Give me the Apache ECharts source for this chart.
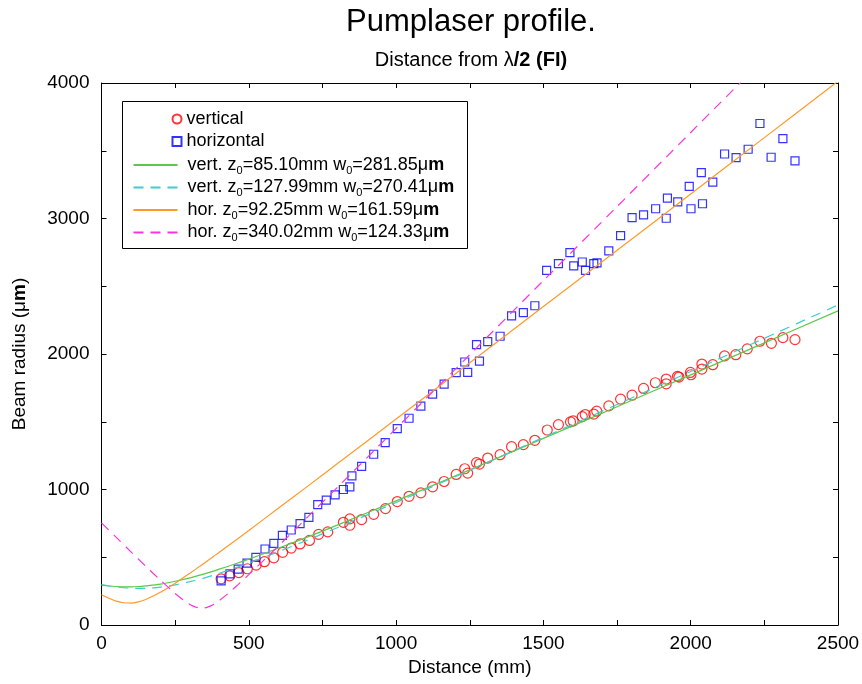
<!DOCTYPE html>
<html>
<head>
<meta charset="utf-8">
<title>Pumplaser profile</title>
<script src="https://cdn.jsdelivr.net/npm/echarts/dist/echarts.min.js"></script>
<style>
    html, body {margin: 0; padding: 0; background: #fff;}
    #main {width: 862px; height: 684px;}
</style>
</head>
<body>
<div id="main"></div>
<script>
    // measured points, vertical profile (circles)
    var vertX = [406, 435, 466, 495, 525, 553, 585, 615, 644, 674, 706, 737, 768, 821, 843, 843, 883, 924, 964,
        1004, 1044, 1084, 1124, 1163, 1204, 1233, 1243, 1273, 1283, 1311, 1353, 1392, 1432, 1471, 1513, 1551,
        1592, 1601, 1632, 1642, 1671, 1681, 1722, 1762, 1801, 1840, 1880, 1917, 1917, 1955, 1960, 1999, 2001,
        2038, 2038, 2075, 2115, 2153, 2192, 2235, 2274, 2313, 2354];
    var vertY = [341, 363, 387, 415, 442, 467, 496, 536, 568, 598, 624, 669, 687, 758, 783, 736, 778, 817, 859,
        911, 950, 975, 1020, 1059, 1111, 1153, 1121, 1198, 1188, 1232, 1257, 1316, 1331, 1363, 1439, 1479,
        1499, 1506, 1538, 1553, 1556, 1578, 1617, 1667, 1696, 1746, 1788, 1815, 1780, 1835, 1830, 1864, 1847,
        1926, 1889, 1921, 1986, 1995, 2038, 2094, 2079, 2121, 2106];

    // measured points, horizontal profile (squares)
    var horX = [406, 436, 464, 494, 524, 555, 585, 614, 644, 674, 704, 734, 763, 793, 821, 843, 850, 883, 924, 963,
        1004, 1044, 1084, 1124, 1163, 1204, 1233, 1243, 1273, 1283, 1311, 1353, 1392, 1432, 1471, 1511, 1551,
        1590, 1603, 1632, 1643, 1671, 1682, 1722, 1762, 1801, 1840, 1881, 1917, 1921, 1956, 1995, 2001, 2036,
        2040, 2075, 2115, 2154, 2195, 2235, 2273, 2313, 2354];
    var horY = [326, 378, 412, 457, 499, 561, 602, 662, 701, 748, 795, 889, 921, 960, 1000, 1020, 1100, 1170, 1260, 1346,
        1449, 1526, 1615, 1704, 1778, 1862, 1941, 1864, 2069, 1948, 2091, 2131, 2281, 2306, 2356, 2617, 2667,
        2748, 2650, 2679, 2617, 2667, 2672, 2761, 2874, 3007, 3027, 3072, 3002, 3150, 3123, 3237, 3072, 3339,
        3109, 3269, 3476, 3449, 3511, 3701, 3452, 3590, 3425];

    // fitted curves
    var fitX = [0, 25, 50, 75, 100, 125, 150, 200, 250, 300, 340, 380, 400, 450, 500, 600, 700, 800,
        1000, 1250, 1500, 1750, 2000, 2250, 2500];
    var vertFit1 = [293, 288, 284, 282, 282, 284, 289, 302, 323, 348, 372, 398, 412, 448, 486, 566, 650, 737,
        916, 1145, 1377, 1611, 1846, 2082, 2318];
    var vertFit2 = [299, 289, 281, 275, 272, 270, 271, 280, 296, 320, 342, 368, 382, 418, 457, 540, 627, 718,
        904, 1142, 1384, 1627, 1871, 2116, 2362];
    var horFit1 = [223, 197, 176, 164, 162, 171, 188, 241, 308, 382, 443, 506, 537, 617, 698, 861, 1025, 1190,
        1520, 1935, 2350, 2765, 3181, 3597, 4013];
    var pinkX = [0, 50, 100, 150, 200, 250, 280, 300, 320, 340, 360, 380, 400, 430, 460, 500, 600, 700, 800,
        1000, 1250, 1500, 1750, 2000, 2170];
    var horFit2 = [754, 647, 540, 434, 331, 233, 181, 152, 132, 124, 132, 152, 181, 233, 291, 372, 582, 798, 1014,
        1450, 1995, 2542, 3088, 3635, 4005];

    // labelled ticks only every second tick
    var xTickLabels = [0, 500, 1000, 1500, 2000, 2500];
    var yTickLabels = [0, 1000, 2000, 3000, 4000];

    var legendText = {
        'vertical': 'vertical',
        'horizontal': 'horizontal',
        'vfit1': ' vert. z{s|0}=85.10mm w{s|0}=281.85μ{b|m}',
        'vfit2': ' vert. z{s|0}=127.99mm w{s|0}=270.41μ{b|m}',
        'hfit1': ' hor. z{s|0}=92.25mm w{s|0}=161.59μ{b|m}',
        'hfit2': ' hor. z{s|0}=340.02mm w{s|0}=124.33μ{b|m}'
    };

    var FONT = '"Liberation Sans", Arial, sans-serif';

    function pairs(xs, ys) {
        var out = [];
        for (var i = 0; i < xs.length; i++) {
            out.push([xs[i], ys[i]]);
        }
        return out;
    }

    function tickFormatter(list) {
        return function (v) {
            return list.indexOf(v) >= 0 ? String(v) : '';
        };
    }

    var richText = {
        s: {fontSize: 11, fontFamily: FONT, color: '#000', verticalAlign: 'bottom', lineHeight: 22},
        b: {fontSize: 18, fontFamily: FONT, color: '#000', fontWeight: 'bold', lineHeight: 22}
    };

    var legendText18 = {fontSize: 18, fontFamily: FONT, color: '#000', lineHeight: 22, rich: richText};

    // frame axes: ticks point into the plot, lines stay on the frame
    function tickStyle() {
        return {inside: true, length: 5, lineStyle: {color: '#000', width: 1}};
    }
    function lineAxis() {
        return {onZero: false, lineStyle: {color: '#000', width: 1}};
    }

    var chart = echarts.init(document.getElementById('main'), null, {renderer: 'canvas'});

    chart.setOption({
        animation: false,
        backgroundColor: '#fff',
        title: [
            {
                text: 'Pumplaser profile.',
                left: 471, top: 7, textAlign: 'center', padding: 0,
                textStyle: {fontSize: 31, fontWeight: 'normal', fontFamily: FONT, color: '#000'}
            },
            {
                text: 'Distance from λ{b|/2 (FI)}',
                left: 471, top: 50, textAlign: 'center', padding: 0,
                textStyle: {
                    fontSize: 20, fontWeight: 'normal', fontFamily: FONT, color: '#000',
                    rich: {b: {fontSize: 20, fontWeight: 'bold', fontFamily: FONT, color: '#000'}}
                }
            }
        ],
        // legend frame
        graphic: [{
            type: 'rect',
            shape: {x: 122.5, y: 101.5, width: 345, height: 147},
            style: {fill: 'none', stroke: '#000', lineWidth: 1},
            z: 10
        }],
        legend: [
            {
                orient: 'vertical', left: 171.5, top: 108, padding: 0, itemGap: 0.5,
                itemWidth: 9, itemHeight: 9, selectedMode: false,
                textStyle: legendText18,
                formatter: function (name) { return legendText[name]; },
                data: ['vertical', 'horizontal']
            },
            {
                orient: 'vertical', left: 132.5, top: 154, padding: 0, itemGap: 0.5,
                itemWidth: 44, itemHeight: 10, selectedMode: false,
                itemStyle: {opacity: 0},
                textStyle: legendText18,
                formatter: function (name) { return legendText[name]; },
                data: ['vfit1', 'vfit2', 'hfit1', 'hfit2']
            }
        ],
        grid: {left: 101.5, right: 24, top: 83, bottom: 59, outerBoundsMode: 'none'},
        xAxis: [
            {
                type: 'value', min: 0, max: 2500, interval: 250,
                name: 'Distance (mm)', nameLocation: 'middle', nameGap: 30,
                nameTextStyle: {fontSize: 19, fontFamily: FONT, color: '#000'},
                axisLine: lineAxis(),
                axisTick: tickStyle(),
                axisLabel: {fontSize: 19, fontFamily: FONT, color: '#000', margin: 9,
                    formatter: tickFormatter(xTickLabels)},
                splitLine: {show: false}
            },
            {
                type: 'value', min: 0, max: 2500, interval: 250, position: 'top',
                axisLine: lineAxis(),
                axisTick: tickStyle(),
                axisLabel: {show: false},
                splitLine: {show: false}
            }
        ],
        yAxis: [
            {
                type: 'value', min: 0, max: 4000, interval: 500,
                name: 'Beam radius (μ{b|m})', nameLocation: 'middle', nameGap: 72,
                nameTextStyle: {
                    fontSize: 19, fontFamily: FONT, color: '#000',
                    rich: {b: {fontSize: 19, fontWeight: 'bold', fontFamily: FONT, color: '#000'}}
                },
                axisLine: lineAxis(),
                axisTick: tickStyle(),
                axisLabel: {fontSize: 19, fontFamily: FONT, color: '#000', margin: 12,
                    formatter: tickFormatter(yTickLabels)},
                splitLine: {show: false}
            },
            {
                type: 'value', min: 0, max: 4000, interval: 500, position: 'right',
                axisLine: lineAxis(),
                axisTick: tickStyle(),
                axisLabel: {show: false},
                splitLine: {show: false}
            }
        ],
        series: [
            {
                name: 'vertical', type: 'scatter', symbol: 'circle', symbolSize: 10,
                itemStyle: {color: 'rgba(255,255,255,0)', borderColor: '#ff0000', borderWidth: 1.2},
                data: pairs(vertX, vertY), z: 3
            },
            {
                name: 'horizontal', type: 'scatter', symbol: 'rect', symbolSize: 8,
                itemStyle: {color: 'rgba(255,255,255,0)', borderColor: '#0000ff', borderWidth: 1.2},
                data: pairs(horX, horY), z: 3
            },
            {
                name: 'vfit1', type: 'line', showSymbol: false, symbol: 'none', smooth: 0.3,
                lineStyle: {color: '#5cc84a', width: 1.2},
                itemStyle: {color: '#5cc84a'},
                data: pairs(fitX, vertFit1), z: 4
            },
            {
                name: 'vfit2', type: 'line', showSymbol: false, symbol: 'none', smooth: 0.3,
                lineStyle: {color: '#40cccc', width: 1.2, type: [10, 7]},
                itemStyle: {color: '#40cccc'},
                data: pairs(fitX, vertFit2), z: 4
            },
            {
                name: 'hfit1', type: 'line', showSymbol: false, symbol: 'none', smooth: 0.3,
                lineStyle: {color: '#ff9a2a', width: 1.2},
                itemStyle: {color: '#ff9a2a'},
                data: pairs(fitX, horFit1), z: 4
            },
            {
                name: 'hfit2', type: 'line', showSymbol: false, symbol: 'none', smooth: 0.3,
                lineStyle: {color: '#ff33dd', width: 1.2, type: [10, 7]},
                itemStyle: {color: '#ff33dd'},
                data: pairs(pinkX, horFit2), z: 4
            }
        ]
    });
</script>
</body>
</html>
